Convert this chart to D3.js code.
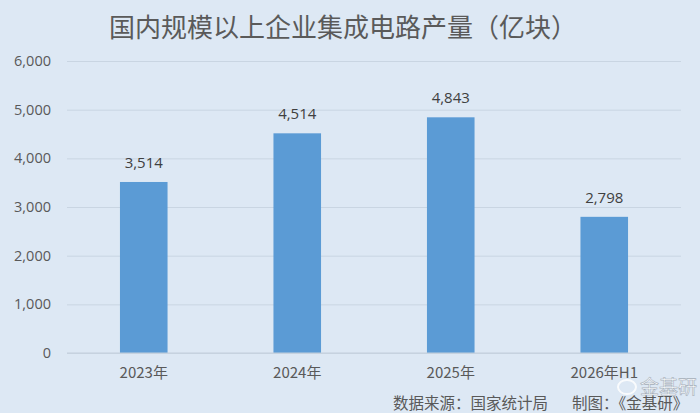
<!DOCTYPE html>
<html><head><meta charset="utf-8">
<script src="https://cdn.jsdelivr.net/npm/d3@7"></script>
<style>
html,body{margin:0;padding:0;background:#dde8f4;}
svg{display:block;}
</style></head>
<body>
<svg id="c" width="700" height="413"></svg>
<script>
const categories = ["2023年", "2024年", "2025年", "2026年H1"];
const values = [3514, 4514, 4843, 2798];
const yTicks = [0, 1000, 2000, 3000, 4000, 5000, 6000];
const titleText = "国内规模以上企业集成电路产量（亿块）";
const sourceText = "数据来源：国家统计局";
const makerText = "制图：《金基研》";

(function () {
const svg = d3.select("#c");
const W = 700, H = 413;
const pLeft = 67, pRight = 681, pTop = 61, pBottom = 353;
const fontCN = "'Noto Sans CJK SC', 'Noto Sans', sans-serif";
const fontNum = "'Open Sans', 'Noto Sans', 'Noto Sans CJK SC', sans-serif";

svg.append("rect").attr("width", W).attr("height", H).attr("fill", "#dde8f4");

const x = d3.scaleBand().domain(categories).range([pLeft, pRight]).paddingInner(0.69).paddingOuter(0.345);
const y = d3.scaleLinear().domain([0, 6000]).range([pBottom, pTop]);

// gridlines
const yAxis = d3.axisLeft(y).tickValues(yTicks).tickSize(-(pRight - pLeft)).tickPadding(16)
  .tickFormat(d3.format(","));
const gy = svg.append("g").attr("transform", `translate(${pLeft},0)`).call(yAxis);
gy.select(".domain").remove();
gy.selectAll(".tick line").attr("stroke", "#c9d5e2").attr("stroke-width", 1);
gy.selectAll(".tick text").attr("fill", "#595959").attr("font-size", 14.5)
  .attr("font-family", fontNum).attr("x", -16);

// bars
svg.append("g").selectAll("rect").data(values).join("rect")
  .attr("x", (d, i) => x(categories[i]))
  .attr("y", d => y(d))
  .attr("width", x.bandwidth())
  .attr("height", d => y(0) - y(d))
  .attr("fill", "#5b9bd5");

// baseline
svg.append("line").attr("x1", pLeft).attr("x2", pRight).attr("y1", y(0)).attr("y2", y(0))
  .attr("stroke", "#c3cfdc").attr("stroke-width", 1);

// value labels
svg.append("g").selectAll("text").data(values).join("text")
  .attr("x", (d, i) => x(categories[i]) + x.bandwidth() / 2)
  .attr("y", d => y(d) - 14)
  .attr("text-anchor", "middle")
  .attr("fill", "#404040").attr("font-size", 15).attr("font-family", fontNum)
  .text(d => d3.format(",")(d));

// x axis labels
const xAxis = d3.axisBottom(x).tickSize(0).tickPadding(14);
const gx = svg.append("g").attr("transform", `translate(0,${pBottom})`).call(xAxis);
gx.select(".domain").remove();
gx.selectAll(".tick text").attr("fill", "#595959").attr("font-size", 15)
  .attr("font-family", fontCN);

// title
svg.append("text").attr("x", 343).attr("y", 37).attr("text-anchor", "middle")
  .attr("fill", "#5a5a5a").attr("font-size", 26).attr("font-family", fontCN)
  .text(titleText);

// source
svg.append("text").attr("x", 393).attr("y", 409).attr("fill", "#595959")
  .attr("font-size", 15.5).attr("font-family", fontCN).text(sourceText);
svg.append("text").attr("x", 572).attr("y", 409).attr("fill", "#595959")
  .attr("font-size", 15.5).attr("font-family", fontCN).text(makerText);

// watermark
const wm = svg.append("g").attr("opacity", 0.85);
wm.append("ellipse").attr("cx", 627).attr("cy", 387).attr("rx", 9).attr("ry", 7)
  .attr("fill", "none").attr("stroke", "#ffffff").attr("stroke-width", 2);
wm.append("text").attr("x", 640).attr("y", 394).attr("fill", "#ffffff")
  .attr("stroke", "#9aa4ae").attr("stroke-width", 0.6)
  .attr("font-size", 19).attr("font-family", fontCN).text("金基研");
})();
</script>
</body></html>
